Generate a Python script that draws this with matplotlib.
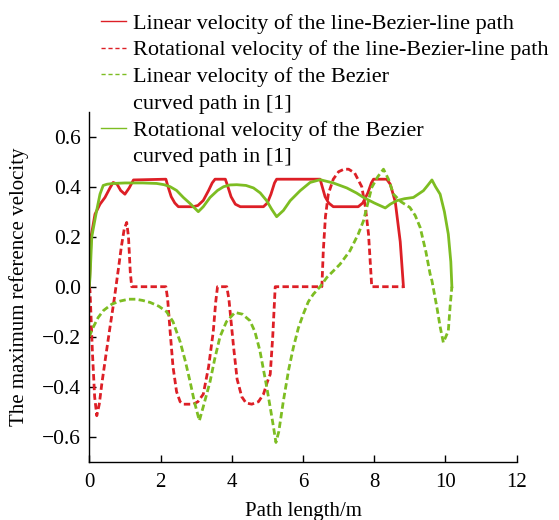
import matplotlib
matplotlib.use('Agg')
import matplotlib.pyplot as plt
from matplotlib.lines import Line2D

# red solid: linear velocity, line-Bezier-line path
lin_lbl_x = [0, 0.05, 0.16, 0.3, 0.44, 0.58, 0.67, 0.78, 0.88, 1.0, 1.12, 1.24, 2.15, 2.2, 2.3, 2.4, 2.5, 2.92,
             3.05, 3.2, 3.35, 3.45, 3.53, 3.82, 3.88, 3.98, 4.1, 4.24, 4.89, 5.0, 5.1, 5.2, 5.26, 6.48,
             6.53, 6.62, 6.72, 6.85, 7.55, 7.68, 7.82, 7.92, 7.98, 8.35, 8.45, 8.59, 8.73, 8.82]
lin_lbl_y = [0, 0.2, 0.29, 0.33, 0.357, 0.395, 0.417, 0.41, 0.385, 0.37, 0.395, 0.427, 0.43, 0.405, 0.36, 0.335, 0.32, 0.32,
             0.325, 0.345, 0.385, 0.415, 0.43, 0.43, 0.405, 0.36, 0.33, 0.32, 0.32, 0.335, 0.37, 0.415, 0.43, 0.43,
             0.405, 0.36, 0.335, 0.32, 0.32, 0.335, 0.375, 0.415, 0.43, 0.43, 0.41, 0.34, 0.18, 0.0]

# red dashed: rotational velocity, line-Bezier-line path
rot_lbl_x = [0, 0.02, 0.09, 0.15, 0.21, 0.28, 0.35, 0.46, 0.58, 0.7, 0.81, 0.9, 0.98, 1.05, 1.1, 1.15, 1.19,
             2.15, 2.2, 2.27, 2.35, 2.45, 2.55, 2.64, 2.92, 3.05, 3.2, 3.35, 3.48, 3.55, 3.6,
             3.86, 3.92, 4.05, 4.15, 4.28, 4.4, 4.56, 4.75, 4.89, 5.0, 5.08, 5.15, 5.22,
             6.53, 6.57, 6.63, 6.71, 6.85, 7.0, 7.15, 7.28, 7.45, 7.65, 7.75, 7.84, 7.93, 8.8]
rot_lbl_y = [0, -0.016, -0.27, -0.44, -0.516, -0.47, -0.39, -0.28, -0.163, -0.05, 0.064, 0.16, 0.23, 0.257, 0.2, 0.06, 0.0,
             0.0, -0.05, -0.18, -0.32, -0.42, -0.46, -0.47, -0.47, -0.46, -0.43, -0.32, -0.18, -0.06, 0.0,
             0.0, -0.05, -0.24, -0.37, -0.44, -0.465, -0.47, -0.46, -0.43, -0.38, -0.35, -0.2, 0.0,
             0.0, 0.144, 0.28, 0.37, 0.43, 0.46, 0.47, 0.47, 0.455, 0.40, 0.32, 0.21, 0.0, 0.0]

# green dashed: linear velocity, Bezier curved path in [1]
lin_bez_x = [0.0, 0.1, 0.25, 0.4, 0.63, 0.85, 1.1, 1.3, 1.5, 1.71, 1.95, 2.17, 2.35, 2.55, 2.7, 2.83, 2.95, 3.09,
             3.2, 3.39, 3.52, 3.67, 3.85, 4.09, 4.3, 4.51, 4.65, 4.79, 4.98, 5.1, 5.17, 5.24, 5.32, 5.45,
             5.6, 5.73, 5.87, 6.01, 6.15, 6.29, 6.48, 6.67, 7.04, 7.32, 7.55, 7.7, 7.83, 7.93, 8.1, 8.26,
             8.4, 8.54, 8.75, 9.0, 9.15, 9.29, 9.45, 9.57, 9.62, 9.76, 9.85, 9.94, 10.01, 10.08, 10.13, 10.18]
lin_bez_y = [-0.2, -0.165, -0.123, -0.095, -0.07, -0.058, -0.05, -0.05, -0.055, -0.063, -0.078, -0.10, -0.14, -0.22, -0.3, -0.38, -0.46, -0.536,
             -0.48, -0.38, -0.29, -0.2, -0.14, -0.103, -0.11, -0.136, -0.18, -0.256, -0.40, -0.5, -0.56, -0.623, -0.58, -0.456,
             -0.33, -0.243, -0.165, -0.109, -0.06, -0.03, 0.0, 0.037, 0.09, 0.144, 0.21, 0.264, 0.34, 0.397, 0.44, 0.47,
             0.43, 0.37, 0.34, 0.317, 0.285, 0.237, 0.14, 0.05, 0.024, -0.083, -0.16, -0.223, -0.2, -0.176, -0.08, 0.0]

# green solid: rotational velocity, Bezier curved path in [1]
rot_bez_x = [0, 0.02, 0.07, 0.2, 0.3, 0.39, 0.5, 0.67, 1.0, 1.5, 1.89, 2.1, 2.27, 2.45, 2.64, 2.85, 3.06, 3.2, 3.39,
             3.6, 3.77, 3.95, 4.14, 4.4, 4.61, 4.8, 4.98, 5.12, 5.26, 5.45, 5.64, 5.92, 6.2, 6.48, 6.85, 7.23,
             7.5, 7.7, 8.0, 8.31, 8.45, 8.63, 8.85, 9.1, 9.38, 9.5, 9.62, 9.72, 9.85, 9.97, 10.08, 10.15, 10.18]
rot_bez_y = [0, 0.037, 0.2, 0.30, 0.37, 0.405, 0.41, 0.413, 0.415, 0.415, 0.413, 0.408, 0.40, 0.385, 0.357, 0.33, 0.30, 0.32, 0.357,
             0.385, 0.40, 0.407, 0.408, 0.405, 0.395, 0.375, 0.344, 0.31, 0.28, 0.305, 0.344, 0.384, 0.417, 0.428, 0.415, 0.395,
             0.375, 0.357, 0.335, 0.315, 0.33, 0.344, 0.352, 0.357, 0.384, 0.405, 0.427, 0.40, 0.37, 0.30, 0.21, 0.1, 0.0]

labels = ['Linear velocity of the line-Bezier-line path',
          'Rotational velocity of the line-Bezier-line path',
          'Linear velocity of the Bezier',
          'curved path in [1]',
          'Rotational velocity of the Bezier',
          'curved path in [1]']

RED = '#dd1f26'
GREEN = '#7dbd22'
LW = 2.0
DASH = (0, (2.3, 1.2))

plt.rcParams['font.family'] = ['Liberation Serif', 'DejaVu Serif']

fig = plt.figure(figsize=(5.59, 5.2), dpi=100)
ax = fig.add_axes([89.3 / 559, 1 - 461.7 / 520, (516.7 - 89.3) / 559, (461.7 - 111.7) / 520])

ax.plot(lin_lbl_x, lin_lbl_y, color=RED, lw=LW)
ax.plot(rot_lbl_x, rot_lbl_y, color=RED, lw=LW, linestyle=DASH)
ax.plot(lin_bez_x, lin_bez_y, color=GREEN, lw=LW, linestyle=DASH)
ax.plot(rot_bez_x, rot_bez_y, color=GREEN, lw=LW)

ax.set_xlim(0, 12)
ax.set_ylim(-0.7, 0.7)
ax.set_xticks([0, 2, 4, 6, 8, 10, 12])
ax.set_yticks([-0.6, -0.4, -0.2, 0.0, 0.2, 0.4, 0.6])
ax.set_yticklabels(['\u22120.6', '\u22120.4', '\u22120.2', '0.0', '0.2', '0.4', '0.6'])
ax.spines['top'].set_visible(False)
ax.spines['right'].set_visible(False)
for s in ['left', 'bottom']:
    ax.spines[s].set_linewidth(1.0)
ax.tick_params(direction='in', length=5, width=1.0)
ax.tick_params(axis='x', pad=8, labelsize=15)
ax.tick_params(axis='y', pad=6, labelsize=15.5)
ax.set_xlabel('Path length/m', fontsize=15, labelpad=7)
ax.set_ylabel('The maximum reference velocity', fontsize=15, labelpad=9)

handles = [Line2D([], [], color=RED, lw=1.0),
           Line2D([], [], color=RED, lw=1.0, linestyle=(0, (3, 2))),
           Line2D([], [], color=GREEN, lw=1.0, linestyle=(0, (3, 2))),
           Line2D([], [], color='none'),
           Line2D([], [], color=GREEN, lw=1.0),
           Line2D([], [], color='none')]
fig.legend(handles, labels, loc='upper left', bbox_to_anchor=(100.7 / 559, 1 - 13 / 520),
           frameon=False, fontsize=16, handlelength=1.15, handletextpad=0.3,
           labelspacing=0.28, borderpad=0, borderaxespad=0)

fig.savefig('out.png', dpi=100)
